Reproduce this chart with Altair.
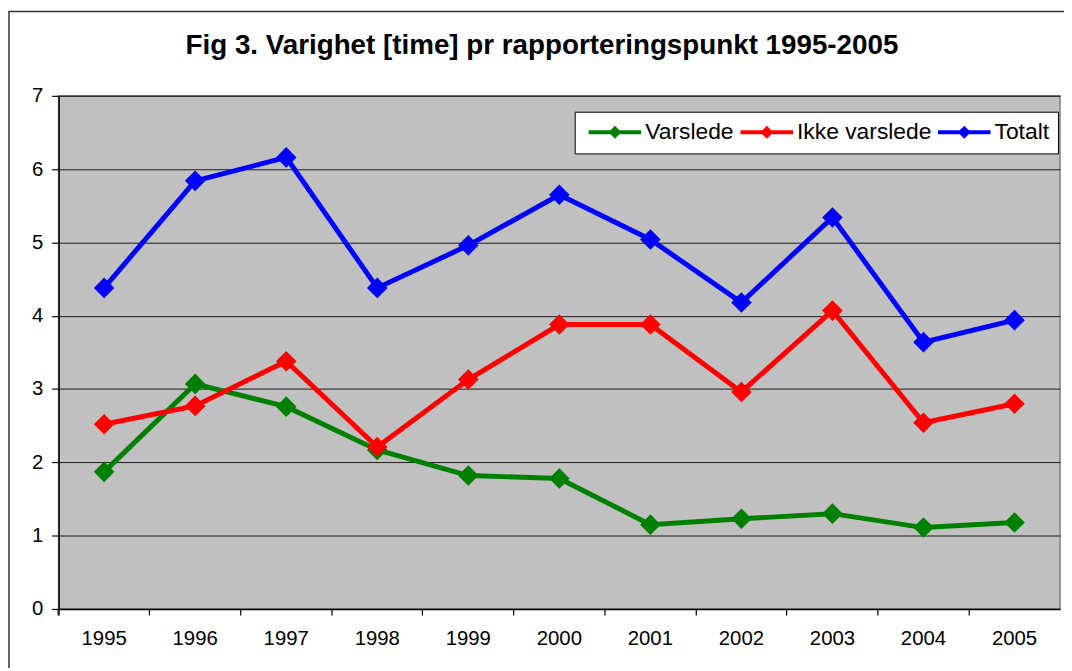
import altair as alt
import pandas as pd

years = ["1995", "1996", "1997", "1998", "1999", "2000", "2001", "2002", "2003", "2004", "2005"]
series_names = ["Varslede", "Ikke varslede", "Totalt"]
series_colors = ["#008000", "#FF0000", "#0000FF"]

varslede = [1.87, 3.07, 2.76, 2.17, 1.82, 1.78, 1.15, 1.23, 1.30, 1.11, 1.18]
ikke_varslede = [2.52, 2.77, 3.38, 2.21, 3.13, 3.88, 3.88, 2.96, 4.07, 2.54, 2.80]
totalt = [4.38, 5.84, 6.16, 4.38, 4.96, 5.65, 5.04, 4.18, 5.34, 3.64, 3.94]

y_ticks = [0, 1, 2, 3, 4, 5, 6, 7]
title_text = "Fig 3. Varighet [time] pr rapporteringspunkt 1995-2005"

rows = []
for name, vals in zip(series_names, [varslede, ikke_varslede, totalt]):
    for yr, v in zip(years, vals):
        rows.append({"year": yr, "value": v, "series": name})
df = pd.DataFrame(rows)

FONT = "Liberation Sans"

x_enc = alt.X(
    "year:O",
    bandPosition=0.5,
    scale=alt.Scale(type="band", paddingInner=0, paddingOuter=0, domain=years),
    axis=alt.Axis(
        title=None, labelAngle=0, labelFontSize=20.5, labelFont=FONT, labelColor="black",
        bandPosition=0, tickExtra=True, tickSize=6, tickColor="black", tickWidth=1.2,
        labelPadding=14, domainColor="black", domainWidth=1.5, grid=False,
    ),
)
y_enc = alt.Y(
    "value:Q",
    scale=alt.Scale(domain=[0, 7], nice=False, zero=True),
    axis=alt.Axis(
        title=None, values=y_ticks, labelFontSize=20.5, labelFont=FONT, labelColor="black",
        tickSize=7, tickColor="black", tickWidth=1.2, labelPadding=9,
        domainColor="black", domainWidth=1.5, grid=True, gridColor="#1a1a1a", gridWidth=1,
    ),
)
color_scale = alt.Scale(domain=series_names, range=series_colors)

legend_path = "M-1,-0.31L7.15,-0.31L7.15,0.31L-1,0.31Z M2.08,0L3.08,-1L4.08,0L3.08,1Z"


def make_legend():
    return alt.Legend(
        title=None, orient="none", legendX=520, legendY=16, direction="horizontal",
        symbolType=legend_path, symbolSize=169, symbolStrokeWidth=0,
        labelFontSize=23, labelFont=FONT, labelColor="black", labelOffset=39,
        labelLimit=400, columnPadding=1, padding=9,
        fillColor="white", strokeColor="black",
    )


frame = alt.Chart(pd.DataFrame({"a": [0]})).mark_rect(
    fill="white", fillOpacity=0, stroke="#333333", strokeWidth=1.5
).encode(
    x=alt.value(-50), x2=alt.value(1040), y=alt.value(-85), y2=alt.value(620)
)

title = alt.Chart(pd.DataFrame({"t": [title_text]})).mark_text(
    font=FONT, fontSize=28, fontWeight="bold", color="black",
    align="center", baseline="alphabetic",
).encode(
    text="t:N", x=alt.value(487), y=alt.value(-42)
)

lines = alt.Chart(df).mark_line(strokeWidth=5).encode(
    x=x_enc,
    y=y_enc,
    color=alt.Color("series:N", scale=color_scale, legend=make_legend()),
    detail="series:N",
)

points = alt.Chart(df).mark_point(shape="diamond", filled=True, size=430, opacity=1).encode(
    x=x_enc,
    y=y_enc,
    color=alt.Color("series:N", scale=color_scale, legend=make_legend()),
)

chart = alt.layer(frame, title, lines, points).properties(
    width=1009,
    height=517,
    padding={"left": 51, "top": 86, "right": 4, "bottom": 57},
    autosize=alt.AutoSizeParams(type="none"),
).configure(
    background="white", font=FONT
).configure_view(
    fill="#C0C0C0", stroke="#808080", strokeWidth=1.5
)

chart.save("out.html", embed_options={"renderer": "svg", "actions": False})
